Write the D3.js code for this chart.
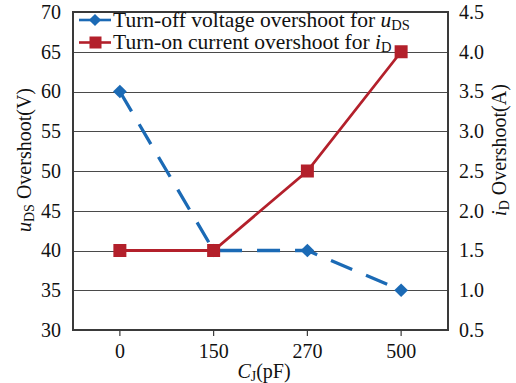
<!DOCTYPE html>
<html>
<head>
<meta charset="utf-8">
<script src="https://cdn.jsdelivr.net/npm/d3@7/dist/d3.min.js"></script>
<style>
  html, body { margin: 0; padding: 0; background: #fff; }
  svg { display: block; font-family: "Liberation Serif", "Times New Roman", serif; }
</style>
</head>
<body>
<svg id="chart" width="516" height="383"></svg>
<script>
// Junction capacitance categories (pF)
const categories = ["0", "150", "270", "500"];
// Turn-off voltage overshoot for uDS (V), left axis
const voltageOvershoot = [60, 40, 40, 35];
// Turn-on current overshoot for iD (A), right axis
const currentOvershoot = [1.5, 1.5, 2.5, 4.0];
// Axis ticks
const leftTicks = [30, 35, 40, 45, 50, 55, 60, 65, 70];
const rightTicks = [0.5, 1.0, 1.5, 2.0, 2.5, 3.0, 3.5, 4.0, 4.5];

const blue = "#1b6ab5";
const red = "#b3202b";
const tickFont = 20;

const svg = d3.select("#chart");
const m = { left: 73, right: 448, top: 12, bottom: 330 };

const x = d3.scaleBand().domain(categories).range([m.left, m.right]).padding(0);
const yL = d3.scaleLinear().domain([30, 70]).range([m.bottom, m.top]);
const yR = d3.scaleLinear().domain([0.5, 4.5]).range([m.bottom, m.top]);
const cx = d => x(d) + x.bandwidth() / 2;

// Horizontal gridlines
svg.append("g").selectAll("line").data(leftTicks).join("line")
  .attr("x1", m.left).attr("x2", m.right)
  .attr("y1", d => Math.round(yL(d)) + 0.5).attr("y2", d => Math.round(yL(d)) + 0.5)
  .attr("stroke", "#4a4a4a").attr("stroke-width", 1.1);

// Plot frame
svg.append("rect")
  .attr("x", m.left).attr("y", m.top)
  .attr("width", m.right - m.left).attr("height", m.bottom - m.top)
  .attr("fill", "none").attr("stroke", "#3a3a3a").attr("stroke-width", 1.3)
  .attr("shape-rendering", "crispEdges");

// Left axis labels
const leftAxis = d3.axisLeft(yL).tickValues(leftTicks).tickSize(0).tickPadding(12)
  .tickFormat(d3.format("d"));
svg.append("g").attr("transform", `translate(${m.left},0)`).call(leftAxis)
  .call(g => g.select(".domain").remove())
  .call(g => g.selectAll("text").attr("font-size", tickFont).attr("fill", "#111")
    .attr("font-family", "Liberation Serif, serif"));

// Right axis labels
const rightAxis = d3.axisRight(yR).tickValues(rightTicks).tickSize(0).tickPadding(11)
  .tickFormat(d3.format(".1f"));
svg.append("g").attr("transform", `translate(${m.right},0)`).call(rightAxis)
  .call(g => g.select(".domain").remove())
  .call(g => g.selectAll("text").attr("font-size", tickFont).attr("fill", "#111")
    .attr("font-family", "Liberation Serif, serif"));

// Bottom axis: short ticks and category labels
const bottomAxis = d3.axisBottom(x).tickSize(6).tickPadding(8);
svg.append("g").attr("transform", `translate(0,${m.bottom})`).call(bottomAxis)
  .call(g => g.select(".domain").remove())
  .call(g => g.selectAll("line").attr("stroke", "#3a3a3a").attr("stroke-width", 1.2))
  .call(g => g.selectAll("text").attr("font-size", tickFont).attr("fill", "#111")
    .attr("font-family", "Liberation Serif, serif"));

// Voltage series: long-dashed line with diamonds
const lineL = d3.line().x((d, i) => cx(categories[i])).y(d => yL(d));
svg.append("path").datum(voltageOvershoot)
  .attr("d", lineL).attr("fill", "none")
  .attr("stroke", blue).attr("stroke-width", 3.3)
  .attr("stroke-dasharray", "23,15");
const diamond = d3.symbol().type(d3.symbolDiamond2).size(120);
svg.append("g").selectAll("path").data(voltageOvershoot).join("path")
  .attr("transform", (d, i) => `translate(${cx(categories[i])},${yL(d)})`)
  .attr("d", diamond).attr("fill", blue);

// Current series: solid line with squares
const lineR = d3.line().x((d, i) => cx(categories[i])).y(d => yR(d));
svg.append("path").datum(currentOvershoot)
  .attr("d", lineR).attr("fill", "none")
  .attr("stroke", red).attr("stroke-width", 2.8);
svg.append("g").selectAll("rect").data(currentOvershoot).join("rect")
  .attr("x", (d, i) => cx(categories[i]) - 6.5).attr("y", d => yR(d) - 6.5)
  .attr("width", 13).attr("height", 13).attr("fill", red);

// Legend
const legend = [
  { color: blue, kind: "diamond", text: "Turn-off voltage overshoot for ", v: "u", sub: "DS" },
  { color: red, kind: "square", text: "Turn-on current overshoot for ", v: "i", sub: "D" }
];
const lg = svg.append("g");
legend.forEach((e, i) => {
  const yy = 20 + i * 22.5;
  lg.append("line").attr("x1", 79).attr("x2", 111).attr("y1", yy).attr("y2", yy)
    .attr("stroke", e.color).attr("stroke-width", 2.6);
  if (e.kind === "diamond") {
    lg.append("path").attr("transform", `translate(95,${yy})`)
      .attr("d", d3.symbol().type(d3.symbolDiamond2).size(95)).attr("fill", e.color);
  } else {
    lg.append("rect").attr("x", 89.5).attr("y", yy - 6).attr("width", 12).attr("height", 12)
      .attr("fill", e.color);
  }
  const t = lg.append("text").attr("x", 113).attr("y", yy + 6.5)
    .attr("font-size", 21.5).attr("fill", "#111");
  t.append("tspan").text(e.text);
  t.append("tspan").attr("font-style", "italic").text(e.v);
  t.append("tspan").attr("font-size", 14.5).attr("dy", 3).text(e.sub);
});

// Left axis title
const tl = svg.append("text")
  .attr("transform", "translate(31,160) rotate(-90)")
  .attr("text-anchor", "middle").attr("font-size", 20).attr("fill", "#111");
tl.append("tspan").attr("font-style", "italic").text("u");
tl.append("tspan").attr("font-size", 14).attr("dy", 3).text("DS");
tl.append("tspan").attr("dy", -3).text(" Overshoot(V)");

// Right axis title
const tr = svg.append("text")
  .attr("transform", "translate(506,150) rotate(-90)")
  .attr("text-anchor", "middle").attr("font-size", 20).attr("fill", "#111");
tr.append("tspan").attr("font-style", "italic").text("i");
tr.append("tspan").attr("font-size", 14).attr("dy", 3).text("D");
tr.append("tspan").attr("dy", -3).text(" Overshoot(A)");

// Bottom axis title
const tb = svg.append("text")
  .attr("x", 264).attr("y", 378)
  .attr("text-anchor", "middle").attr("font-size", 20).attr("fill", "#111");
tb.append("tspan").attr("font-style", "italic").text("C");
tb.append("tspan").attr("font-size", 14).attr("dy", 3).text("J");
tb.append("tspan").attr("dy", -3).text("(pF)");
</script>
</body>
</html>
